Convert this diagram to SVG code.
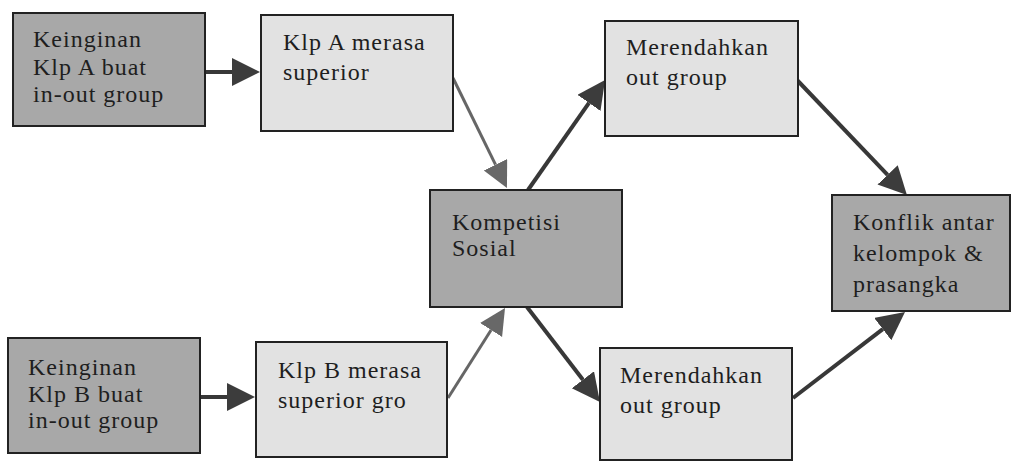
<svg xmlns="http://www.w3.org/2000/svg" width="1013" height="462" viewBox="0 0 1013 462">
<style>
.dark{fill:#a8a8a8;stroke:#222;stroke-width:2}
.light{fill:#e2e2e2;stroke:#222;stroke-width:2}
text{font-family:"Liberation Serif","Times New Roman",serif;font-size:24px;fill:#1e1e1e;letter-spacing:1px}
.c-dark{stroke:#383838;stroke-width:4;fill:none}
.c-gray{stroke:#666666;stroke-width:3;fill:none}
</style>
<defs>
<marker id="hd" markerUnits="userSpaceOnUse" markerWidth="30" markerHeight="30" refX="0" refY="14" orient="auto">
<path d="M0,0 L28,14 L0,28 z" fill="#3c3c3c"/>
</marker>
<marker id="hg" markerUnits="userSpaceOnUse" markerWidth="28" markerHeight="28" refX="0" refY="13" orient="auto">
<path d="M0,0 L26,13 L0,26 z" fill="#686868"/>
</marker>
</defs>
<rect width="1013" height="462" fill="#ffffff"/>
<g id="connectors">
<line class="c-dark" x1="205" y1="72" x2="232" y2="72" marker-end="url(#hd)"/>
<line class="c-gray" x1="453" y1="78" x2="495.5" y2="164.7" marker-end="url(#hg)"/>
<line class="c-dark" x1="528" y1="190" x2="589" y2="102.9" marker-end="url(#hd)"/>
<line class="c-dark" x1="527" y1="307" x2="582.9" y2="379.8" marker-end="url(#hd)"/>
<line class="c-gray" x1="448" y1="398" x2="491.1" y2="330" marker-end="url(#hg)"/>
<line class="c-dark" x1="200" y1="397" x2="227" y2="397" marker-end="url(#hd)"/>
<line class="c-dark" x1="797" y1="80" x2="887.6" y2="174.8" marker-end="url(#hd)"/>
<line class="c-dark" x1="793" y1="398" x2="882.8" y2="329.1" marker-end="url(#hd)"/>
</g>
<g id="node-a1">
<rect class="dark" x="13" y="13" width="192" height="113"/>
<text x="33" y="47">Keinginan</text>
<text x="33" y="75">Klp A buat</text>
<text x="33" y="102">in-out group</text>
</g>
<g id="node-a2">
<rect class="light" x="261" y="15" width="192" height="116"/>
<text x="283" y="50">Klp A merasa</text>
<text x="283" y="80">superior</text>
</g>
<g id="node-komp">
<rect class="dark" x="430" y="190" width="192" height="117"/>
<text x="452" y="230">Kompetisi</text>
<text x="452" y="256">Sosial</text>
</g>
<g id="node-m1">
<rect class="light" x="605" y="21" width="193" height="115"/>
<text x="626" y="55">Merendahkan</text>
<text x="626" y="85">out group</text>
</g>
<g id="node-m2">
<rect class="light" x="600" y="348" width="192" height="112"/>
<text x="620" y="383">Merendahkan</text>
<text x="620" y="413">out group</text>
</g>
<g id="node-konflik">
<rect class="dark" x="832" y="195" width="178" height="116"/>
<text x="853" y="230">Konflik antar</text>
<text x="853" y="261">kelompok &amp;</text>
<text x="853" y="292">prasangka</text>
</g>
<g id="node-b1">
<rect class="dark" x="8" y="338" width="192" height="115"/>
<text x="28" y="375">Keinginan</text>
<text x="28" y="402">Klp B buat</text>
<text x="28" y="428">in-out group</text>
</g>
<g id="node-b2">
<rect class="light" x="256" y="342" width="191" height="115"/>
<text x="278" y="378">Klp B merasa</text>
<text x="278" y="408">superior gro</text>
</g>
</svg>
